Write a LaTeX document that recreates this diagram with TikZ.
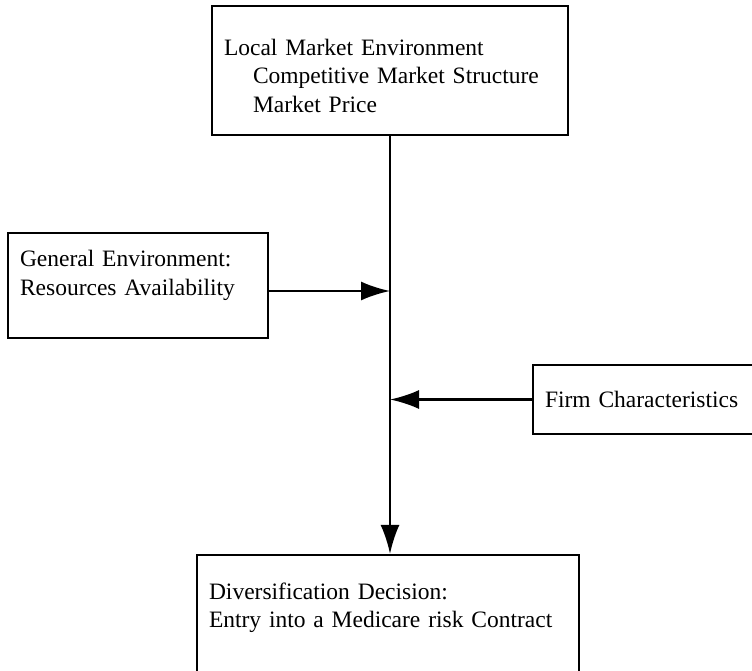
\documentclass[tikz,border=0pt]{standalone}
\usepackage{fontspec}
\setmainfont{Liberation Serif}
\usetikzlibrary{arrows.meta}
\tikzset{
  fbox/.style={draw, line width=2.2pt, align=left, inner xsep=12pt, inner ysep=0pt,
               font=\fontsize{23.5}{28.5}\selectfont},
  flow/.style={-{Latex[length=29pt,width=19pt]}, line width=2.2pt}
}
\begin{document}
\begin{tikzpicture}[x=1pt, y=-1pt]
\clip (0,0) rectangle (752,671);
\node[fbox, minimum width=356pt, minimum height=129pt, text width=332pt] (local) at (390,70.5)
  {\rule{0pt}{27pt}Local Market Environment\\
   \hspace*{29pt}Competitive Market Structure\\
   \hspace*{29pt}Market Price};
\node[fbox, minimum width=260pt, minimum height=105pt, text width=236pt] (general) at (138,285.5)
  {General Environment:\\ Resources Availability\rule[-25pt]{0pt}{0pt}};
\node[fbox, minimum width=250pt, minimum height=69pt, text width=226pt] (firm) at (658,399.5)
  {Firm Characteristics};
\node[fbox, minimum width=382pt, minimum height=140pt, text width=358pt] (decision) at (388,625)
  {Diversification Decision:\\ Entry into a Medicare risk Contract\rule[-40pt]{0pt}{0pt}};
% spine and side inputs
\draw[flow] (local.south) -- (local.south |- decision.north);
\draw[flow] ([yshift=-5.5pt]general.east) -- ([yshift=-5.5pt]general.east -| local.south);
\draw[flow] (firm.west) -- (firm.west -| local.south);
\end{tikzpicture}
\end{document}
